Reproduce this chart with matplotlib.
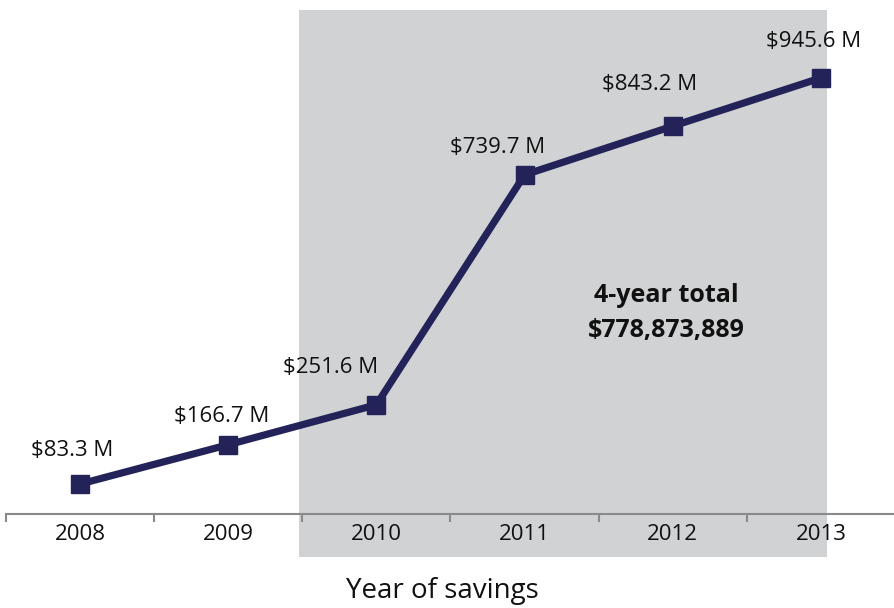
import matplotlib
matplotlib.use("Agg")
import matplotlib.pyplot as plt
import matplotlib.transforms as mtransforms
from matplotlib.patches import Rectangle
import numpy as np

# Data (millions of USD).
years = ["2008", "2009", "2010", "2011", "2012", "2013"]
savings = [83.3, 166.7, 251.6, 739.7, 843.2, 945.6]
point_labels = ["$83.3 M", "$166.7 M", "$251.6 M", "$739.7 M", "$843.2 M", "$945.6 M"]
total_title = "4-year total"
total_value = "$778,873,889"
x_title = "Year of savings"

# Label offsets in pixels (dx, dy) relative to each point.
LABEL_OFFSETS = [(-8, 34), (-7, 28), (-46, 37), (-27, 27), (-23, 42), (-7, 36)]

LINE_COLOR = "#232359"
SHADE_COLOR = "#d1d2d4"
AXIS_COLOR = "#8a8a8a"

plt.rcParams["font.family"] = ["Open Sans", "DejaVu Sans"]

W, H = 895, 608
fig = plt.figure(figsize=(W / 100, H / 100), dpi=100)
# axes: left at x=6px, right at 895px, bottom at y=514px, top at 0
ax = fig.add_axes([6 / W, (H - 514) / H, (W - 6) / W, 514 / H])

x = np.arange(len(years))
ax.set_xlim(-0.5, len(years) - 0.5)
ax.set_ylim(19.6, 1111)

# shaded 4-year window, extends below the axis line
trans = mtransforms.blended_transform_factory(ax.transData, fig.transFigure)
ax.add_patch(Rectangle((1.476, (H - 557) / H), 5.04 - 1.476, (557 - 10) / H,
                       transform=trans, facecolor=SHADE_COLOR, edgecolor="none",
                       clip_on=False, zorder=0))

ax.plot(x, savings, color=LINE_COLOR, linewidth=5.2, marker="s",
        markersize=13.5, solid_joinstyle="miter", zorder=3, clip_on=False)

for xi, yi, lab, (dx, dy) in zip(x, savings, point_labels, LABEL_OFFSETS):
    ax.annotate(lab, (xi, yi), xytext=(dx * 0.72, dy * 0.72),
                textcoords="offset points", ha="center", va="center",
                fontsize=16, color="#111111", zorder=4)

# 4-year total annotation
ax.text(666 / W, (H - 296) / H, total_title, transform=fig.transFigure,
        ha="center", va="center", fontsize=18, fontweight="bold", color="#111111")
ax.text(666 / W, (H - 331) / H, total_value, transform=fig.transFigure,
        ha="center", va="center", fontsize=18, fontweight="bold", color="#111111")

# axis styling
for side in ["top", "right", "left"]:
    ax.spines[side].set_visible(False)
ax.spines["bottom"].set_color(AXIS_COLOR)
ax.spines["bottom"].set_linewidth(1.5)
ax.set_yticks([])
ax.set_xticks(np.arange(-0.5, len(years) - 0.5, 1.0))
ax.set_xticklabels([])
ax.set_xticks(x, minor=True)
ax.set_xticklabels(years, minor=True, fontsize=16, color="#111111")
ax.tick_params(axis="x", which="major", direction="out", length=6,
               width=1.5, color=AXIS_COLOR)
ax.tick_params(axis="x", which="minor", length=0, pad=7)
ax.patch.set_alpha(0)

fig.text(442 / W, (H - 591) / H, x_title, ha="center", va="center",
         fontsize=20, color="#111111")

fig.savefig("out.png", dpi=100)
